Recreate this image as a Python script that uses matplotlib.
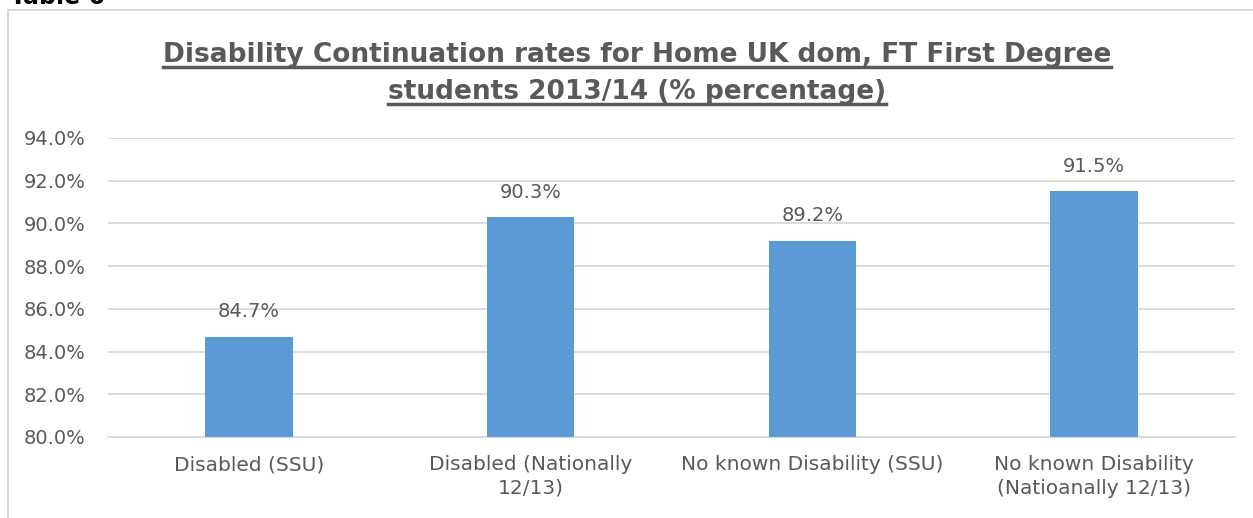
import matplotlib.pyplot as plt
from matplotlib.patches import Rectangle

categories = ['Disabled (SSU)', 'Disabled (Nationally\n12/13)',
              'No known Disability (SSU)', 'No known Disability\n(Natioanally 12/13)']
rates = [84.7, 90.3, 89.2, 91.5]
yticks = [80, 82, 84, 86, 88, 90, 92, 94]

W, H = 1253, 518
grey = '#595959'
plt.rcParams['font.family'] = ['DejaVu Sans']

fig = plt.figure(figsize=(W / 100, H / 100), dpi=100)

# chart frame and the clipped caption above it
fig.patches.append(Rectangle((8 / W, -0.1), 1.2, 1.1 - 10 / H, transform=fig.transFigure,
                             fill=False, edgecolor='#D9D9D9', linewidth=1.5))
fig.text(10 / W, 1 - 4 / H, 'Table 6', fontsize=17, fontweight='bold', color='black',
         va='baseline', ha='left')

ax = fig.add_axes([108 / W, 1 - 437 / H, (1235 - 108) / W, (437 - 138) / H])
x = range(len(categories))
bars = ax.bar(x, rates, width=0.31, color='#5B9BD5', zorder=3)
ax.set_xlim(-0.5, len(categories) - 0.5)
ax.set_ylim(80, 94)
ax.set_yticks(yticks)
ax.set_yticklabels([f'{v:.1f}%' for v in yticks], fontsize=14, color=grey)
ax.set_xticks(list(x))
ax.set_xticklabels(categories, fontsize=14.5, color=grey, linespacing=1.3)
ax.tick_params(axis='x', length=0, pad=13)
ax.tick_params(axis='y', length=0, pad=16)
ax.grid(axis='y', color='#D9D9D9', linewidth=1.3, zorder=0)
for s in ['top', 'right', 'left']:
    ax.spines[s].set_visible(False)
ax.spines['bottom'].set_color('#D9D9D9')
ax.spines['bottom'].set_linewidth(1.3)

for b, v in zip(bars, rates):
    ax.annotate(f'{v:.1f}%', (b.get_x() + b.get_width() / 2, v), xytext=(0, 11),
                textcoords='offset points', ha='center', va='bottom', fontsize=14, color=grey)

t1 = fig.text(637 / W, 1 - 62 / H, 'Disability Continuation rates for Home UK dom, FT First Degree',
              ha='center', va='baseline', fontsize=19, fontweight='bold', color=grey)
t2 = fig.text(637 / W, 1 - 99 / H, 'students 2013/14 (% percentage)',
              ha='center', va='baseline', fontsize=19, fontweight='bold', color=grey)

# underline both title lines
fig.canvas.draw()
r = fig.canvas.get_renderer()
for t, base in [(t1, 62), (t2, 99)]:
    bb = t.get_window_extent(r)
    yy = 1 - (base + 5) / H
    fig.add_artist(plt.Line2D([bb.x0 / W, bb.x1 / W], [yy, yy], color=grey, linewidth=2.5,
                              transform=fig.transFigure))

fig.savefig('out.png', dpi=100)
